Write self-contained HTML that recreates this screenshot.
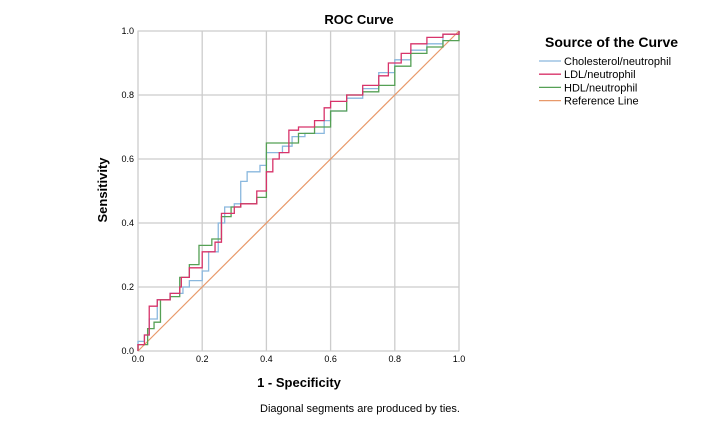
<!DOCTYPE html>
<html><head><meta charset="utf-8"><style>
body{margin:0;background:#fff;font-family:"Liberation Sans",sans-serif}
svg text{font-family:"Liberation Sans",sans-serif}
</style></head><body>
<svg id="chart" width="719" height="424" viewBox="0 0 719 424" xmlns="http://www.w3.org/2000/svg">
<text x="359" y="24" text-anchor="middle" font-size="13" font-weight="bold">ROC Curve</text>
<g id="grid"></g>
<g id="ticks"></g>
<g id="series"></g>
<text x="107" y="190" text-anchor="middle" font-size="13" font-weight="bold" transform="rotate(-90 107 190)">Sensitivity</text>
<text x="299" y="387" text-anchor="middle" font-size="13" font-weight="bold">1 - Specificity</text>
<text x="360" y="412" text-anchor="middle" font-size="11">Diagonal segments are produced by ties.</text>
<text x="545" y="47" font-size="14" font-weight="bold">Source of the Curve</text>
<g id="legend"></g>
</svg>
<script>
const ticks=[0,0.2,0.4,0.6,0.8,1.0];
const tickLabels=["0.0","0.2","0.4","0.6","0.8","1.0"];
const seriesNames=["Cholesterol/neutrophil","LDL/neutrophil","HDL/neutrophil","Reference Line"];
const cholFpr=[0,0,0.02,0.035,0.06,0.1,0.14,0.16,0.2,0.22,0.25,0.27,0.3,0.32,0.34,0.38,0.4,0.45,0.48,0.52,0.58,0.6,0.65,0.7,0.75,0.8,0.85,0.9,0.95,1];
const cholTpr=[0,0.03,0.05,0.1,0.16,0.18,0.2,0.22,0.25,0.31,0.4,0.45,0.46,0.53,0.56,0.58,0.62,0.64,0.67,0.68,0.72,0.75,0.79,0.82,0.87,0.91,0.94,0.96,0.99,1];
const ldlFpr=[0,0,0.02,0.035,0.06,0.1,0.13,0.135,0.16,0.2,0.24,0.26,0.3,0.32,0.37,0.4,0.42,0.44,0.47,0.5,0.55,0.58,0.6,0.65,0.7,0.75,0.78,0.82,0.85,0.9,0.95,1];
const ldlTpr=[0,0.02,0.05,0.14,0.16,0.18,0.2,0.23,0.26,0.31,0.34,0.43,0.45,0.46,0.5,0.56,0.6,0.62,0.69,0.7,0.72,0.76,0.78,0.8,0.83,0.86,0.9,0.93,0.96,0.98,0.99,1];
const hdlFpr=[0,0,0.03,0.05,0.07,0.1,0.13,0.16,0.19,0.23,0.26,0.29,0.32,0.37,0.4,0.45,0.5,0.55,0.6,0.65,0.7,0.75,0.8,0.85,0.9,0.95,1];
const hdlTpr=[0,0.02,0.07,0.09,0.16,0.17,0.23,0.27,0.33,0.35,0.42,0.45,0.46,0.48,0.65,0.65,0.68,0.7,0.75,0.8,0.81,0.83,0.89,0.93,0.95,0.97,1];
const refFpr=[0,1];const refTpr=[0,1];
const colors=["#8ab8de","#d8336a","#55a055","#e8996a"];
const NS="http://www.w3.org/2000/svg";
const X0=138,X1=459,Y0=351,Y1=31;
const sx=v=>X0+v*(X1-X0), sy=v=>Y0-v*(Y0-Y1);
function mk(t,a,p){const e=document.createElementNS(NS,t);for(const k in a)e.setAttribute(k,a[k]);p.appendChild(e);return e;}
const grid=document.getElementById('grid'),tk=document.getElementById('ticks'),ser=document.getElementById('series'),leg=document.getElementById('legend');
mk('rect',{x:X0,y:Y1,width:X1-X0,height:Y0-Y1,fill:'#fff',stroke:'#c8c8c8'},grid);
ticks.forEach((t,i)=>{
 const v=mk('line',{x1:sx(t),x2:sx(t),y1:Y1,y2:Y0,stroke:'#cccccc','stroke-width':1.3},grid);
 
 
 const h=mk('line',{x1:X0,x2:X1,y1:sy(t),y2:sy(t),stroke:'#cccccc','stroke-width':1.3},grid);
 
 
 const xl=mk('text',{x:sx(t),y:Y0+11,'text-anchor':'middle','font-size':9},tk);xl.textContent=tickLabels[i];
 
 
 const yl=mk('text',{x:X0-4,y:sy(t)+3,'text-anchor':'end','font-size':9},tk);yl.textContent=tickLabels[i];
 
 
});
function stepPath(fx,ty){let d='M'+sx(fx[0])+' '+sy(ty[0]);for(let i=1;i<fx.length;i++){d+=' L'+sx(fx[i])+' '+sy(ty[i-1])+' L'+sx(fx[i])+' '+sy(ty[i]);}return d;}
const r=mk('path',{d:'M'+sx(refFpr[0])+' '+sy(refTpr[0])+' L'+sx(refFpr[1])+' '+sy(refTpr[1]),stroke:colors[3],fill:'none','stroke-width':1.2},ser);


const c=mk('path',{d:stepPath(cholFpr,cholTpr),stroke:colors[0],fill:'none','stroke-width':1.3},ser);


const g=mk('path',{d:stepPath(hdlFpr,hdlTpr),stroke:colors[2],fill:'none','stroke-width':1.3},ser);


const l=mk('path',{d:stepPath(ldlFpr,ldlTpr),stroke:colors[1],fill:'none','stroke-width':1.3},ser);


seriesNames.forEach((n,i)=>{
 const y=61+i*13.2;
 const ln=mk('line',{x1:539,x2:561,y1:y,y2:y,stroke:colors[i],'stroke-width':1.3},leg);
 
 
 const t=mk('text',{x:564,y:y+4,'font-size':11},leg);t.textContent=n;
 
 
});
</script>
</body></html>
